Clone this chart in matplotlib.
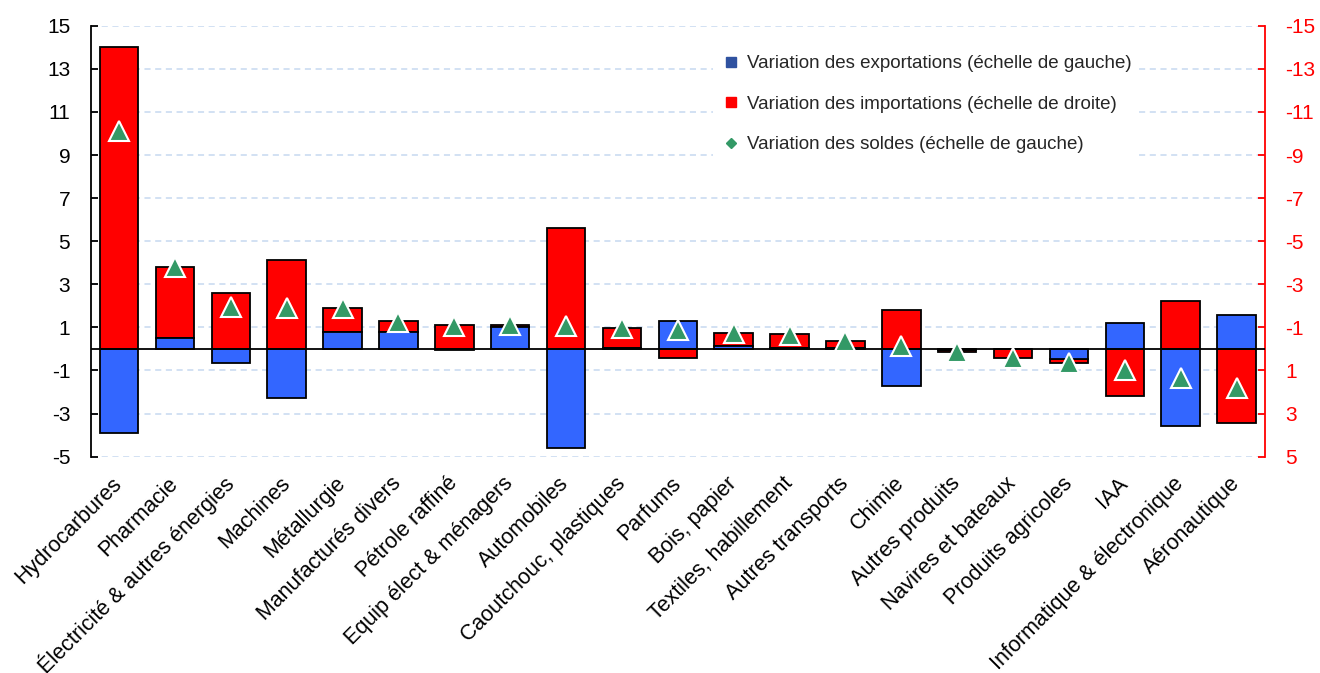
import numpy as np
import matplotlib
matplotlib.use('Agg')
import matplotlib.pyplot as plt
from matplotlib.lines import Line2D

plt.rcParams['font.family'] = ['Liberation Sans', 'DejaVu Sans']
plt.rcParams['axes.unicode_minus'] = False

categories = ['Hydrocarbures', 'Pharmacie', 'Électricité & autres énergies', 'Machines',
              'Métallurgie', 'Manufacturés divers', 'Pétrole raffiné', 'Equip élect & ménagers',
              'Automobiles', 'Caoutchouc, plastiques', 'Parfums', 'Bois, papier',
              'Textiles, habillement', 'Autres transports', 'Chimie', 'Autres produits',
              'Navires et bateaux', 'Produits agricoles', 'IAA', 'Informatique & électronique',
              'Aéronautique']

# variation des exportations (echelle de gauche)
exports = [-3.88, 0.50, -0.64, -2.26, 0.80, 0.80, -0.07, 1.02, -4.59, 0.04, 1.30,
           0.12, 0.05, 0.04, -1.72, -0.05, -0.02, -0.46, 1.21, -3.59, 1.59]
# variation des importations (echelle de droite, inversee)
imports = [-14.03, -3.32, -2.60, -4.14, -1.12, -0.50, -1.13, -0.10, -5.63, -0.95, 0.40,
           -0.62, -0.63, -0.33, -1.83, 0.07, 0.40, 0.19, 2.20, -2.23, 3.42]
# variation des soldes (echelle de gauche)
soldes = [10.10, 3.80, 1.96, 1.88, 1.88, 1.27, 1.08, 1.10, 1.05, 0.96, 0.90,
          0.72, 0.66, 0.35, 0.12, -0.12, -0.42, -0.63, -1.00, -1.35, -1.80]

blue = '#3366FF'
red = '#FF0000'
green = '#339966'

x = np.arange(len(categories))
exp_arr = np.array(exports)
imp_arr = np.array(imports)
# red bars stack on the blue ones when both go the same way on the chart
imp_bottom = np.where(exp_arr * (-imp_arr) > 0, -exp_arr, 0.0)

fig = plt.figure(figsize=(13.2, 6.73), dpi=100)
ax = fig.add_axes([0.069, 0.3214, 0.889, 0.6404])
ax2 = ax.twinx()
ax.set_zorder(ax2.get_zorder() + 1)
ax.patch.set_visible(False)

w = 0.69
ax2.bar(x, imp_arr, w, bottom=imp_bottom, color=red, edgecolor='black', linewidth=1.3, zorder=2)
ax.bar(x, exp_arr, w, color=blue, edgecolor='black', linewidth=1.3, zorder=2)
ax.axhline(0, color='black', lw=1.3, zorder=3)
ax.plot(x, soldes, linestyle='none', marker='^', ms=15, mfc=green, mec='white', mew=1.5, zorder=4)

ax.set_xlim(-0.5, len(categories) - 0.5)
ax.set_ylim(-5, 15)
ax.set_yticks(np.arange(-5, 16, 2))
ax2.set_ylim(5, -15)
ax2.set_yticks(np.arange(-15, 6, 2))

ax2.set_axisbelow(True)
ax2.yaxis.grid(True, color='#C6D9F0', linestyle=(0, (4, 3)), lw=1.1)

for s in ['top', 'bottom']:
    ax.spines[s].set_visible(False)
    ax2.spines[s].set_visible(False)
ax.spines['right'].set_visible(False)
ax.spines['left'].set_linewidth(1.3)
ax2.spines['left'].set_visible(False)
ax2.spines['right'].set_color(red)
ax2.spines['right'].set_linewidth(1.3)

ax.tick_params(axis='y', direction='in', length=5, width=1.3, labelsize=15, pad=15)
ax2.tick_params(axis='y', direction='in', length=5, width=1.3, color=red, labelcolor=red,
                labelsize=15, pad=15)

ax.set_xticks(x)
ax.set_xticklabels(categories, rotation=45, ha='right', va='center', rotation_mode='anchor',
                   fontsize=15.5)
ax.tick_params(axis='x', length=0, pad=17)

handles = [
    Line2D([], [], linestyle='none', marker='s', ms=7, mfc='#2F52A0', mec='#2F52A0'),
    Line2D([], [], linestyle='none', marker='s', ms=7, mfc=red, mec=red),
    Line2D([], [], linestyle='none', marker='D', ms=5, mfc=green, mec=green),
]
labels = ['Variation des exportations (échelle de gauche)',
          'Variation des importations (échelle de droite)',
          'Variation des soldes (échelle de gauche)']
fig.legend(handles, labels, loc='upper left', bbox_to_anchor=(0.533, 0.943), fontsize=13.5,
           frameon=True, facecolor='white', edgecolor='none', framealpha=1, fancybox=False,
           labelspacing=1.25, handletextpad=0.3, handlelength=1.1, labelcolor='#262626')

fig.savefig('out.png', dpi=100)
